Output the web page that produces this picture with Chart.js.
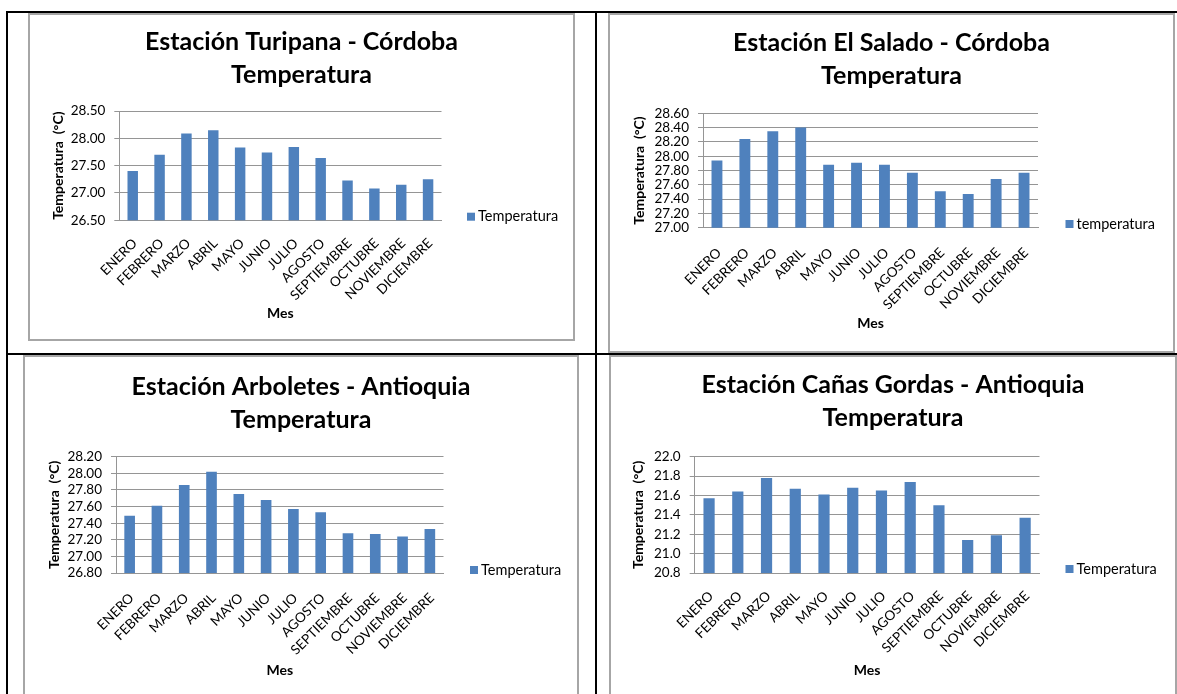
<!DOCTYPE html>
<html>
<head>
<meta charset="utf-8">
<script src="https://cdn.jsdelivr.net/npm/chart.js@4"></script>
<style>
  body { margin: 0; background: #fff; width: 1177px; height: 694px; overflow: hidden; position: relative; }
  .line { position: absolute; background: #000; }
  .box { position: absolute; box-sizing: border-box; border: 2px solid #a6a6a6; pointer-events: none; }
  canvas { position: absolute; }
</style>
</head>
<body>
<div class="line" style="left:6px;top:11px;width:1171px;height:2px"></div>
<div class="line" style="left:6px;top:11px;width:2px;height:683px"></div>
<div class="line" style="left:595px;top:11px;width:2px;height:683px"></div>
<div class="line" style="left:6px;top:353px;width:1171px;height:2px"></div>

<canvas id="turipanaChart" width="547" height="328" style="left:28px;top:13px"></canvas>
<div class="box" style="left:28px;top:13px;width:547px;height:328px"></div>

<canvas id="saladoChart" width="567" height="340" style="left:608px;top:13px"></canvas>
<div class="box" style="left:608px;top:13px;width:567px;height:340px"></div>

<canvas id="arboletesChart" width="556" height="360" style="left:23px;top:355px"></canvas>
<div class="box" style="left:23px;top:355px;width:556px;height:360px"></div>

<canvas id="canasChart" width="568" height="360" style="left:609px;top:355px"></canvas>
<div class="box" style="left:609px;top:355px;width:568px;height:360px"></div>

<script>
const meses = ["ENERO", "FEBRERO", "MARZO", "ABRIL", "MAYO", "JUNIO", "JULIO", "AGOSTO",
  "SEPTIEMBRE", "OCTUBRE", "NOVIEMBRE", "DICIEMBRE"];

const turipanaTemp = [27.40, 27.70, 28.09, 28.15, 27.83, 27.74, 27.84, 27.64, 27.23, 27.08, 27.15, 27.25];
const saladoTemp = [27.94, 28.24, 28.35, 28.40, 27.88, 27.91, 27.88, 27.77, 27.51, 27.47, 27.68, 27.77];
const arboletesTemp = [27.49, 27.61, 27.86, 28.02, 27.75, 27.68, 27.57, 27.53, 27.28, 27.27, 27.24, 27.33];
const canasTemp = [21.57, 21.64, 21.78, 21.67, 21.61, 21.68, 21.65, 21.74, 21.50, 21.14, 21.19, 21.37];

const turipanaTicks = [26.5, 27.0, 27.5, 28.0, 28.5];
const saladoTicks = [27.0, 27.2, 27.4, 27.6, 27.8, 28.0, 28.2, 28.4, 28.6];
const arboletesTicks = [26.8, 27.0, 27.2, 27.4, 27.6, 27.8, 28.0, 28.2];
const canasTicks = [20.8, 21.0, 21.2, 21.4, 21.6, 21.8, 22.0];

const barColor = "#4F81BD";
const gridColor = "#959595";
const fontName = "Lato";
const legendSize = 14.5;

Chart.defaults.font.family = fontName;
Chart.defaults.color = "#000";

// legend drawn beside the plot, like the Excel one
const sideLegend = {
  id: "sideLegend",
  afterDraw(chart, args, opts) {
    const ctx = chart.ctx;
    const ds = chart.data.datasets[0];
    ctx.save();
    ctx.fillStyle = ds.backgroundColor;
    ctx.fillRect(opts.x, opts.y - 4, 8, 8);
    ctx.fillStyle = "#000";
    ctx.font = legendSize + "px " + fontName;
    ctx.textBaseline = "middle";
    ctx.textAlign = "left";
    ctx.fillText(ds.label, opts.x + 11, opts.y);
    ctx.restore();
  },
};

function renderTempChart(canvasId, station, values, ticks, decimals, seriesLabel, box) {
  const canvas = document.getElementById(canvasId);
  const titleSize = 25;
  const titleLine = 33;
  const titleTop = box.title1 - titleLine / 2;
  const axisLine = 14 * 1.2;

  new Chart(canvas, {
    type: "bar",
    data: {
      labels: meses,
      datasets: [
        {
          label: seriesLabel,
          data: values,
          backgroundColor: barColor,
          borderWidth: 0,
          barPercentage: 0.39,
          categoryPercentage: 1,
        },
      ],
    },
    plugins: [sideLegend],
    options: {
      responsive: false,
      animation: false,
      layout: { padding: 0 },
      plugins: {
        legend: { display: false },
        tooltip: { enabled: false },
        title: {
          display: true,
          text: [station, "Temperatura"],
          color: "#000",
          font: { family: fontName, size: titleSize, weight: "bold", lineHeight: titleLine / titleSize },
          padding: { top: titleTop, bottom: box.top - titleTop - 2 * titleLine },
        },
        sideLegend: { x: box.legendX, y: box.legendY },
      },
      scales: {
        x: {
          grid: { display: false, drawTicks: false },
          border: { color: gridColor },
          ticks: {
            autoSkip: false,
            minRotation: 45,
            maxRotation: 45,
            padding: box.xPad,
            labelOffset: 2,
            color: "#000",
            font: { size: 13.5 },
          },
          title: {
            display: true,
            text: "Mes",
            color: "#000",
            font: { size: 14, weight: "bold" },
            padding: { top: 0, bottom: canvas.height - box.mes - axisLine / 2 },
          },
          afterFit: function (scale) {
            scale.height = canvas.height - box.bottom;
          },
        },
        y: {
          min: ticks[0],
          max: ticks[ticks.length - 1],
          afterBuildTicks: function (scale) {
            scale.ticks = ticks.map((v) => ({ value: v }));
          },
          grid: { color: gridColor, tickLength: 5 },
          border: { color: gridColor },
          ticks: {
            autoSkip: false,
            padding: 9,
            color: "#000",
            font: { size: 13.5 },
            callback: (v) => Number(v).toFixed(decimals),
          },
          title: {
            display: true,
            text: "Temperatura  (°C)",
            color: "#000",
            font: { size: 14, weight: "bold" },
            padding: { top: box.yTitle - axisLine / 2, bottom: 0 },
          },
          afterFit: function (scale) {
            scale.width = box.left;
          },
        },
        // empty right-hand strip where the legend sits
        legendSpace: {
          type: "linear",
          position: "right",
          grid: { display: false, drawTicks: false },
          border: { display: false },
          ticks: { display: false },
          afterFit: function (scale) {
            scale.width = canvas.width - box.right;
          },
        },
      },
    },
  });
}

renderTempChart("turipanaChart", "Estación Turipana - Córdoba", turipanaTemp, turipanaTicks, 2, "Temperatura",
  { left: 91.3, right: 413.5, top: 98, bottom: 207.3, title1: 29, yTitle: 30.4, mes: 300.3, legendX: 439, legendY: 203.7, xPad: 15 });

renderTempChart("saladoChart", "Estación El Salado - Córdoba", saladoTemp, saladoTicks, 2, "temperatura",
  { left: 95, right: 430, top: 100.3, bottom: 214.7, title1: 30, yTitle: 31.4, mes: 310.3, legendX: 457.5, legendY: 211, xPad: 17 });

renderTempChart("arboletesChart", "Estación Arboletes - Antioquia", arboletesTemp, arboletesTicks, 2, "Temperatura",
  { left: 93, right: 420.5, top: 101.7, bottom: 218, title1: 31.7, yTitle: 31.5, mes: 315, legendX: 447, legendY: 215, xPad: 17 });

renderTempChart("canasChart", "Estación Cañas Gordas - Antioquia", canasTemp, canasTicks, 1, "Temperatura",
  { left: 85.7, right: 430.5, top: 101.7, bottom: 218, title1: 30.3, yTitle: 29.3, mes: 315, legendX: 456.5, legendY: 214, xPad: 15 });
</script>
</body>
</html>
